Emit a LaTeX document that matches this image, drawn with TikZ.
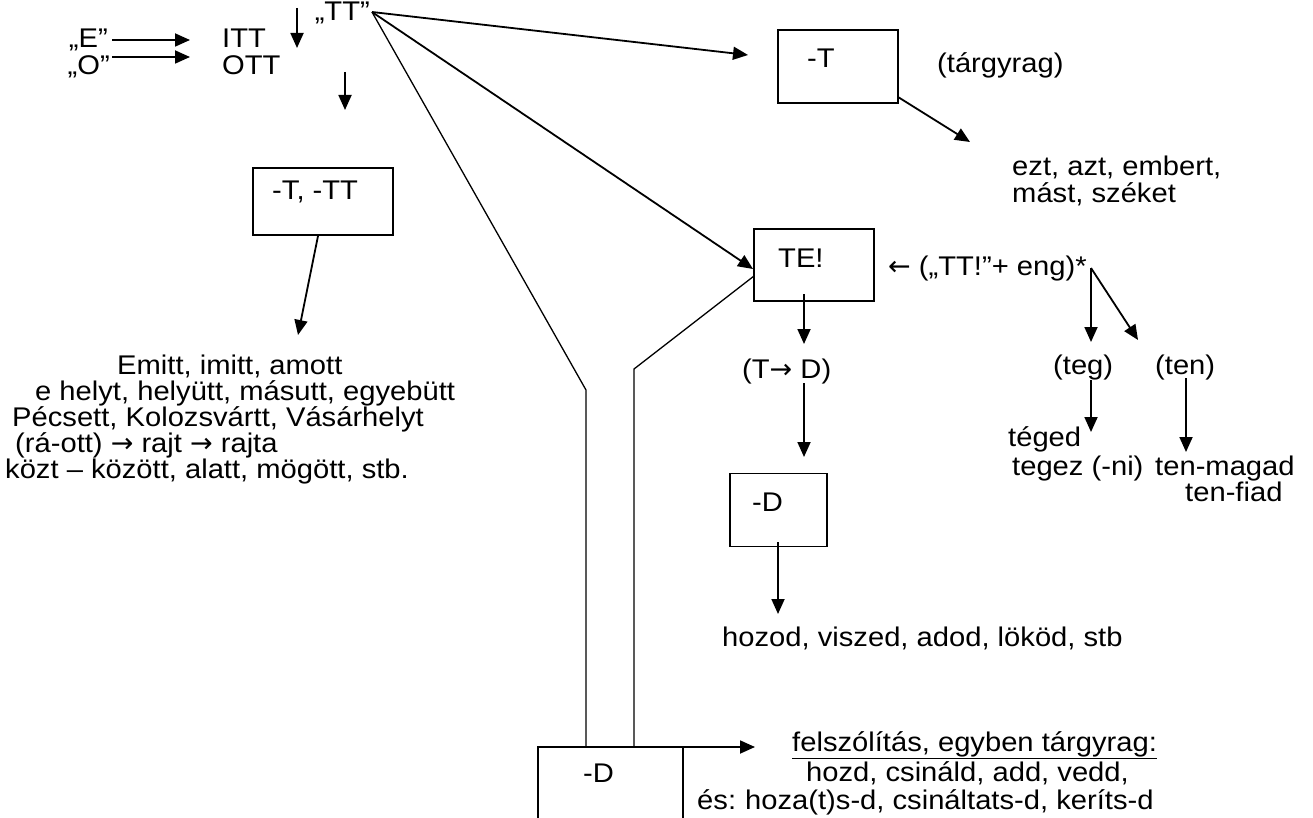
\documentclass[tikz,border=0pt]{standalone}
\usepackage{fontspec}
\setmainfont{Liberation Sans}[FakeStretch=1.08]
\newfontfamily\arrowfont{DejaVu Sans}
\usetikzlibrary{arrows.meta}
\newcommand{\ra}{{\arrowfont →}}
\newcommand{\la}{{\arrowfont ←}}
\begin{document}
\begin{tikzpicture}[x=1pt,y=-1pt,
  lbl/.style={font=\fontsize{27}{26}\selectfont, inner sep=0pt, anchor=base west,
              text height=19pt, text depth=5pt},
  arr/.style={line width=1.8pt, -{Triangle[length=15pt,width=13pt]}},
  thinline/.style={line width=1.3pt},
  boxy/.style={draw, line width=1.5pt, inner sep=0pt}]
\useasboundingbox (0,0) rectangle (1313,818);

% --- top left: the TT root and its variants ---
\node[lbl, anchor=base east] (tt) at (370,21) {„TT”};
\coordinate (ttc) at (372,12);
\coordinate (d1s) at (297,8);
\coordinate (d1e) at (297,48);
\draw[arr] (d1s) -- (d1e);

\node[lbl, anchor=base east] (e) at (108,48) {„E”};
\node[lbl] (itt) at (222,48) {ITT};
\coordinate (eArrS) at (112,40);
\coordinate (eArrE) at (190,40);
\draw[arr] (eArrS) -- (eArrE);

\node[lbl, anchor=base east] (o) at (110,75) {„O”};
\node[lbl] (ott) at (222,75) {OTT};
\coordinate (oArrS) at (112,57);
\coordinate (oArrE) at (190,57);
\draw[arr] (oArrS) -- (oArrE);

\coordinate (d2s) at (345,72);
\coordinate (d2e) at (345,110);
\draw[arr] (d2s) -- (d2e);

% box -T, -TT and its examples
\node[boxy, minimum width=140pt, minimum height=67pt] (b1) at (323,201.5) {};
\node[lbl] (b1t) at (272,200) {-T, -TT};
\coordinate (b1o) at (318,236);
\coordinate (blockIn) at (298,335);
\draw[arr] (b1o) -- (blockIn);

\node[lbl] (ex1) at (117,374) {Emitt, imitt, amott};
\node[lbl] (ex2) at (35,400) {e helyt, helyütt, másutt, egyebütt};
\node[lbl] (ex3) at (12,426) {Pécsett, Kolozsvártt, Vásárhelyt};
\node[lbl] (ex4) at (15,452) {(rá-ott) \ra{} rajt \ra{} rajta};
\node[lbl] (ex5) at (5,478) {közt – között, alatt, mögött, stb.};

% --- the -T accusative branch ---
\node[boxy, minimum width=120pt, minimum height=73pt] (bt) at (838,66.5) {};
\node[lbl] (btt) at (807,68) {-T};
\coordinate (btIn) at (748,55);
\draw[arr] (ttc) -- (btIn);
\node[lbl] (targy) at (937,73) {(tárgyrag)};
\coordinate (btOut) at (898,97);
\coordinate (accIn) at (970,142);
\draw[arr] (btOut) -- (accIn);
\node[lbl] (acc1) at (1012,176) {ezt, azt, embert,};
\node[lbl] (acc2) at (1012,203) {mást, széket};

% --- the TE! imperative branch ---
\node[boxy, minimum width=120pt, minimum height=72pt] (bte) at (814,265) {};
\node[lbl] (btet) at (778,267) {TE!};
\coordinate (bteIn) at (753,269);
\draw[arr] (ttc) -- (bteIn);

% funnel down to the final -D box
\coordinate (fl1) at (586,390);
\coordinate (fl2) at (586,747);
\coordinate (fr0) at (754,276);
\coordinate (fr1) at (634,369);
\coordinate (fr2) at (634,747);
\draw[thinline] (ttc) -- (fl1) -- (fl2);
\draw[thinline] (fr0) -- (fr1) -- (fr2);

\node[lbl] (eng) at (888,275) {\la{} („TT!”+ eng)*};
\coordinate (star) at (1091,268);
\coordinate (tegIn) at (1091,342);
\coordinate (tenIn) at (1138,340);
\draw[arr] (star) -- (tegIn);
\draw[arr] (star) -- (tenIn);
\node[lbl] (teg) at (1053,374) {(teg)};
\node[lbl] (ten) at (1155,374) {(ten)};
\coordinate (tegS) at (1091,380);
\coordinate (tegE) at (1091,432);
\draw[arr] (tegS) -- (tegE);
\node[lbl] (teged) at (1008,446) {téged};
\node[lbl] (tegez) at (1012,475) {tegez (-ni)};
\coordinate (tenS) at (1186,378);
\coordinate (tenE) at (1186,452);
\draw[arr] (tenS) -- (tenE);
\node[lbl] (tenmagad) at (1155,475) {ten-magad};
\node[lbl] (tenfiad) at (1185,501) {ten-fiad};

\coordinate (bteOut) at (804,294);
\coordinate (tdIn) at (804,344);
\draw[arr] (bteOut) -- (tdIn);
\node[lbl] (td) at (742,378) {(T\ra{} D)};
\coordinate (tdOut) at (804,383);
\coordinate (bdIn) at (804,457);
\draw[arr] (tdOut) -- (bdIn);

\node[boxy, minimum width=97pt, minimum height=73pt] (bd) at (778.5,510) {};
\node[lbl] (bdt) at (752,511) {-D};
\coordinate (bdOut) at (778,542);
\coordinate (hozIn) at (778,614);
\draw[arr] (bdOut) -- (hozIn);
\node[lbl] (hozod) at (722,646) {hozod, viszed, adod, lököd, stb};

% --- final -D box at the bottom ---
\node[boxy, minimum width=145pt, minimum height=100pt] (bf) at (610.5,797) {};
\node[lbl] (bft) at (583,782) {-D};
\coordinate (bfOut) at (683,747);
\coordinate (felIn) at (755,747);
\draw[arr] (bfOut) -- (felIn);
\node[lbl] (fel) at (792,751) {\underline{felszólítás, egyben tárgyrag:}};
\node[lbl] (hozd) at (806,781) {hozd, csináld, add, vedd,};
\node[lbl] (es) at (697,809) {és:};
\node[lbl] (hoza) at (745,809) {hoza(t)s-d, csináltats-d, keríts-d};
\end{tikzpicture}
\end{document}
